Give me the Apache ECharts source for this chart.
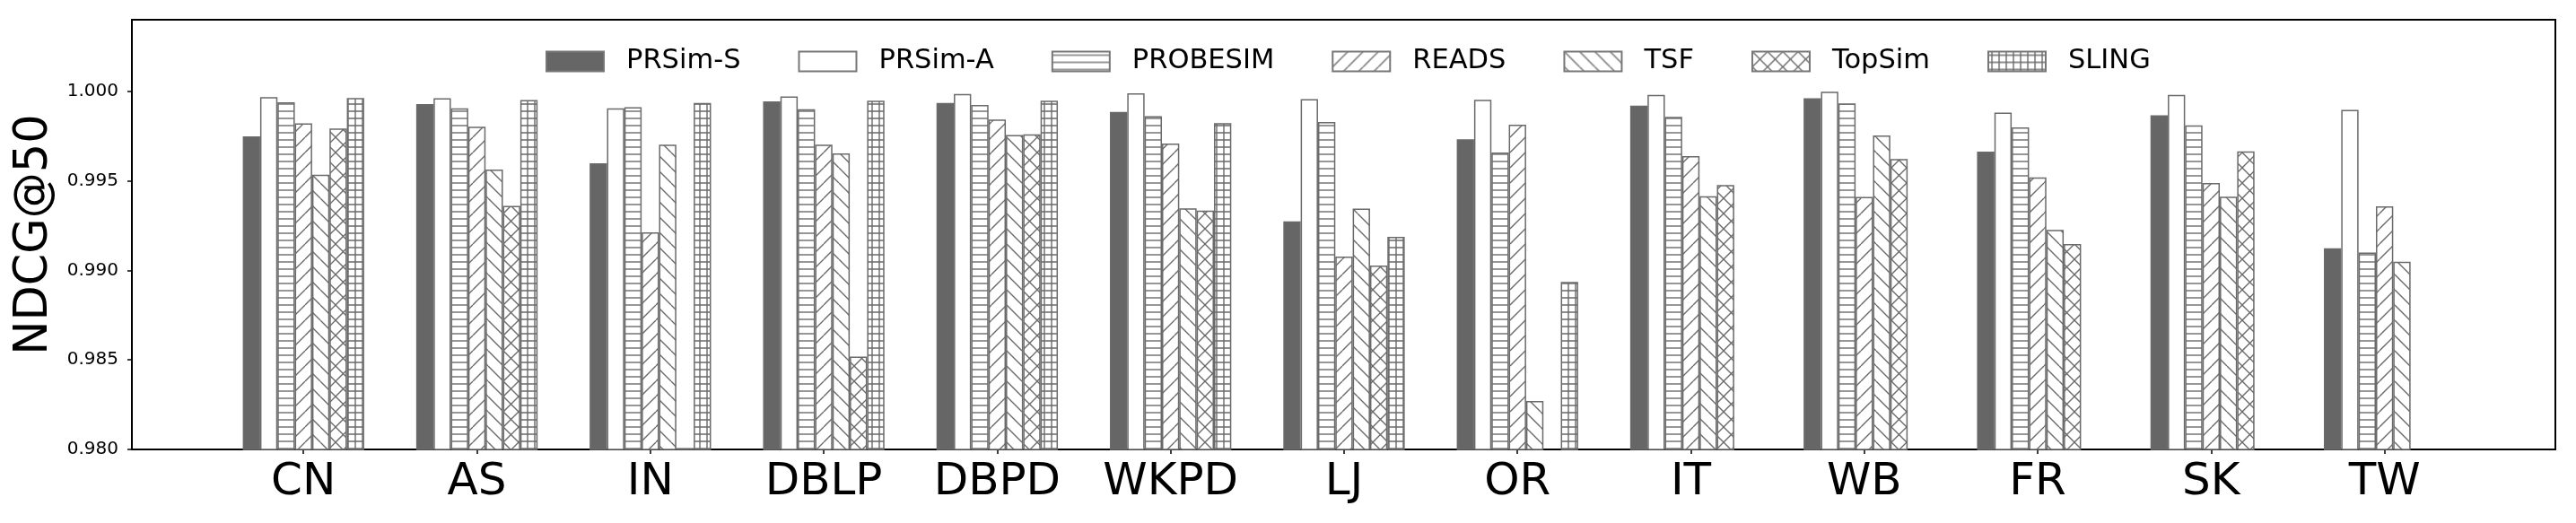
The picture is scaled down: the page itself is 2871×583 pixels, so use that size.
<!DOCTYPE html>
<html>
<head>
<meta charset="utf-8">
<script src="https://cdn.jsdelivr.net/npm/echarts@6/dist/echarts.min.js"></script>
<style>
  html, body { margin: 0; padding: 0; background: #fff; }
  #chart { width: 2871px; height: 583px; }
</style>
</head>
<body>
<div id="chart"></div>
<script>
const categories = ['CN', 'AS', 'IN', 'DBLP', 'DBPD', 'WKPD', 'LJ', 'OR', 'IT', 'WB', 'FR', 'SK', 'TW'];
const methods = ['PRSim-S', 'PRSim-A', 'PROBESIM', 'READS', 'TSF', 'TopSim', 'SLING'];

const prsimS   = [0.99749, 0.99929, 0.99598, 0.99944, 0.99935, 0.99885, 0.99274, 0.99732, 0.99920, 0.99961, 0.99663, 0.99866, 0.99124];
const prsimA   = [0.99968, 0.99961, 0.99905, 0.99972, 0.99985, 0.99989, 0.99957, 0.99953, 0.99981, 0.99998, 0.99881, 0.99981, 0.99896];
const probesim = [0.99939, 0.99905, 0.99911, 0.99900, 0.99924, 0.99862, 0.99829, 0.99658, 0.99857, 0.99933, 0.99799, 0.99810, 0.99100];
const reads    = [0.99821, 0.99803, 0.99213, 0.99702, 0.99842, 0.99708, 0.99077, 0.99814, 0.99639, 0.99410, 0.99520, 0.99488, 0.99358];
const tsf      = [0.99535, 0.99563, 0.99702, 0.99654, 0.99756, 0.99347, 0.99345, 0.98270, 0.99414, 0.99754, 0.99226, 0.99412, 0.99049];
const topsim   = [0.99793, 0.99360, 0.98008, 0.98519, 0.99760, 0.99334, 0.99027, null, 0.99477, 0.99622, 0.99148, 0.99665, null];
const sling    = [0.99963, 0.99952, 0.99935, 0.99948, 0.99948, 0.99823, 0.99187, 0.98936, null, null, null, null, null];

const yTicks = [0.980, 0.985, 0.990, 0.995, 1.000];

const LINE = '#6a6a6a';

// hatch tiles, drawn like matplotlib's '-', '/', '\', 'x', '+'
function hatch(kind) {
  const s = (kind === '-' || kind === '+') ? 8 : 17;
  const c = document.createElement('canvas');
  c.width = s; c.height = s;
  const g = c.getContext('2d');
  g.fillStyle = '#fff';
  g.fillRect(0, 0, s, s);
  g.strokeStyle = LINE;
  g.lineWidth = 1.4;
  g.beginPath();
  if (kind === '-' || kind === '+') {
    g.moveTo(0, s / 2); g.lineTo(s, s / 2);
  }
  if (kind === '+') {
    g.moveTo(s / 2, 0); g.lineTo(s / 2, s);
  }
  if (kind === '/' || kind === 'x') {
    for (const k of [-s, 0, s]) { g.moveTo(k, s); g.lineTo(k + s, 0); }
  }
  if (kind === '\\' || kind === 'x') {
    for (const k of [-s, 0, s]) { g.moveTo(k, 0); g.lineTo(k + s, s); }
  }
  g.stroke();
  return { image: c, repeat: 'repeat' };
}

const fills = [
  '#666666',
  '#ffffff',
  hatch('-'),
  hatch('/'),
  hatch('\\'),
  hatch('x'),
  hatch('+')
];
const values = [prsimS, prsimA, probesim, reads, tsf, topsim, sling];

const chart = echarts.init(document.getElementById('chart'));

const font = 'DejaVu Sans';

chart.setOption({
  animation: false,
  textStyle: { fontFamily: font, color: '#000' },
  grid: [
    { left: 147, top: 22, width: 2701, height: 479, show: true, borderColor: '#000', borderWidth: 2, backgroundColor: 'transparent' },
    { left: 241.6, top: 22, width: 2512.7, height: 479 }
  ],
  legend: {
    left: 603,
    top: 48,
    itemWidth: 64,
    itemHeight: 22,
    itemGap: 64,
    icon: 'rect',
    textStyle: { fontSize: 30.5, fontFamily: font, color: '#000', padding: [0, 0, 0, 20] },
    itemStyle: { borderColor: '#777', borderWidth: 2 },
    data: methods
  },
  xAxis: [
    { gridIndex: 0, type: 'value', show: false, min: 0, max: 1 },
    {
      gridIndex: 1,
      type: 'category',
      data: categories,
      axisLine: { show: false },
      axisTick: { show: true, alignWithLabel: true, length: 5, lineStyle: { color: '#000', width: 1.5 } },
      axisLabel: { interval: 0, fontSize: 50, fontFamily: font, color: '#000', margin: 12 },
      splitLine: { show: false }
    }
  ],
  yAxis: [
    {
      gridIndex: 0,
      type: 'value',
      min: 0.98,
      max: 1.004,
      name: 'NDCG@50',
      nameLocation: 'middle',
      nameGap: 82,
      nameTextStyle: { fontSize: 51, fontFamily: font, color: '#000' },
      axisLine: { show: false },
      axisTick: { show: true, length: 5, customValues: yTicks, lineStyle: { color: '#000', width: 1.5 } },
      axisLabel: {
        fontSize: 20, fontFamily: font, color: '#000', margin: 15,
        customValues: yTicks,
        formatter: v => v.toFixed(3)
      },
      splitLine: { show: false }
    },
    { gridIndex: 1, type: 'value', min: 0.98, max: 1.004, show: false, splitLine: { show: false } }
  ],
  series: methods.map((name, i) => ({
    name: name,
    type: 'bar',
    xAxisIndex: 1,
    yAxisIndex: 1,
    barWidth: 19.33,
    barGap: '0%',
    data: values[i],
    itemStyle: { color: fills[i], borderColor: LINE, borderWidth: 1.5 }
  }))
});
</script>
</body>
</html>
